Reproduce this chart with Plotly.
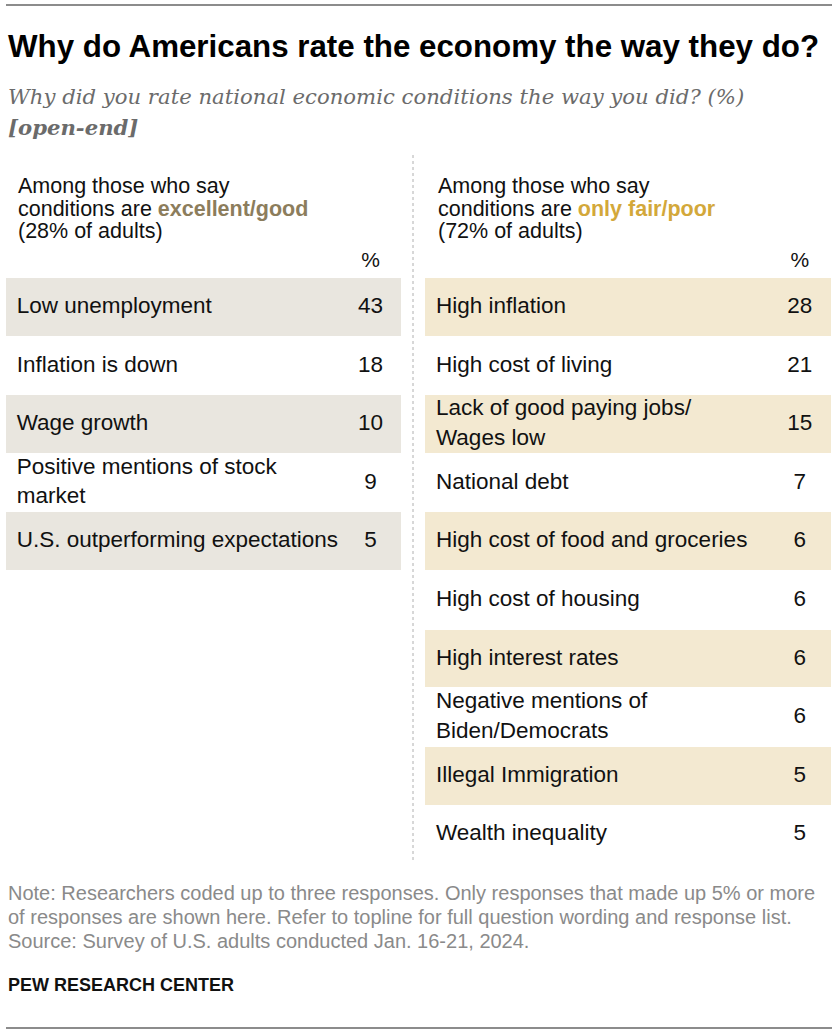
import plotly.graph_objects as go

# Data
good_labels = [
    "Low unemployment",
    "Inflation is down",
    "Wage growth",
    "Positive mentions of stock<br>market",
    "U.S. outperforming expectations",
]
good_values = [43, 18, 10, 9, 5]

poor_labels = [
    "High inflation",
    "High cost of living",
    "Lack of good paying jobs/<br>Wages low",
    "National debt",
    "High cost of food and groceries",
    "High cost of housing",
    "High interest rates",
    "Negative mentions of<br>Biden/Democrats",
    "Illegal Immigration",
    "Wealth inequality",
]
poor_values = [28, 21, 15, 7, 6, 6, 6, 6, 5, 5]

title = "Why do Americans rate the economy the way they do?"
subtitle = "Why did you rate national economic conditions the way you did? (%)"
note_lines = [
    "Note: Researchers coded up to three responses. Only responses that made up 5% or more",
    "of responses are shown here. Refer to topline for full question wording and response list.",
    "Source: Survey of U.S. adults conducted Jan. 16-21, 2024.",
]

W, H = 840, 1036
BODY_FONT = "Liberation Sans"
GOOD_BG = "#E9E6DF"
POOR_BG = "#F3E9D1"
GOOD_ACCENT = "#8C7D5C"
POOR_ACCENT = "#D3A83A"
ROW_PX = 58.6


def py(px):
    # pixel row -> paper fraction
    return 1 - px / H


fig = go.Figure()

columns = [
    ("x", good_labels, good_values, GOOD_BG),
    ("x2", poor_labels, poor_values, POOR_BG),
]

for xref, labels, values, bg in columns:
    rows = list(range(len(labels)))
    shaded = [r for r in rows if r % 2 == 0]
    fig.add_trace(go.Bar(
        x=[1] * len(shaded),
        y=shaded,
        base=0,
        orientation="h",
        width=0.985,
        marker_color=bg,
        marker_line_width=0,
        xaxis=xref,
        yaxis="y",
        hoverinfo="skip",
    ))
    fig.add_trace(go.Scatter(
        x=[0.027] * len(labels),
        y=rows,
        text=labels,
        mode="text",
        textposition="middle right",
        textfont=dict(family=BODY_FONT, size=22.5, color="#111111"),
        xaxis=xref,
        yaxis="y",
        cliponaxis=False,
        hoverinfo="skip",
    ))
    fig.add_trace(go.Scatter(
        x=[0.923] * len(values),
        y=rows,
        text=[str(v) for v in values],
        mode="text",
        textposition="middle center",
        textfont=dict(family=BODY_FONT, size=22.5, color="#111111"),
        xaxis=xref,
        yaxis="y",
        cliponaxis=False,
        hoverinfo="skip",
    ))
    # "%" column header sits just above the first row
    fig.add_trace(go.Scatter(
        x=[0.923],
        y=[-0.78],
        text=["%"],
        mode="text",
        textposition="middle center",
        textfont=dict(family=BODY_FONT, size=21, color="#111111"),
        xaxis=xref,
        yaxis="y",
        cliponaxis=False,
        hoverinfo="skip",
    ))

# Column headers
headers = [
    (16, ["Among those who say",
          "conditions are <b><span style='color:%s'>excellent/good</span></b>" % GOOD_ACCENT,
          "(28% of adults)"]),
    (436, ["Among those who say",
           "conditions are <b><span style='color:%s'>only fair/poor</span></b>" % POOR_ACCENT,
           "(72% of adults)"]),
]
for x0, lines in headers:
    for i, line in enumerate(lines):
        fig.add_annotation(
            x=x0 / W, y=py(186 + i * 22.5), xref="paper", yref="paper",
            text=line, showarrow=False, xanchor="left", yanchor="middle",
            font=dict(family=BODY_FONT, size=21.5, color="#111111"),
        )

# Title block
fig.add_annotation(
    x=6 / W, y=py(46), xref="paper", yref="paper",
    text="<b>%s</b>" % title, showarrow=False, xanchor="left", yanchor="middle",
    font=dict(family=BODY_FONT, size=31.3, color="#000000"),
)
fig.add_annotation(
    x=6 / W, y=py(96), xref="paper", yref="paper",
    text="<i>%s</i>" % subtitle, showarrow=False, xanchor="left", yanchor="middle",
    font=dict(family="DejaVu Serif", size=21.2, color="#6b6b6b"),
)
fig.add_annotation(
    x=6 / W, y=py(127), xref="paper", yref="paper",
    text="<b><i>[open-end]</i></b>", showarrow=False, xanchor="left", yanchor="middle",
    font=dict(family="DejaVu Serif", size=21.2, color="#6b6b6b"),
)

# Notes and source
for i, line in enumerate(note_lines):
    fig.add_annotation(
        x=6 / W, y=py(893 + i * 24), xref="paper", yref="paper",
        text=line, showarrow=False, xanchor="left", yanchor="middle",
        font=dict(family=BODY_FONT, size=20, color="#8a8a8a"),
    )
fig.add_annotation(
    x=6 / W, y=py(985), xref="paper", yref="paper",
    text="<b>PEW RESEARCH CENTER</b>", showarrow=False, xanchor="left", yanchor="middle",
    font=dict(family=BODY_FONT, size=18, color="#111111"),
)

# Rules and divider
fig.add_shape(type="line", xref="paper", yref="paper",
              x0=6 / W, x1=832 / W, y0=py(5), y1=py(5),
              line=dict(color="#8c8c8c", width=2))
fig.add_shape(type="line", xref="paper", yref="paper",
              x0=6 / W, x1=832 / W, y0=py(1028), y1=py(1028),
              line=dict(color="#8c8c8c", width=2))
fig.add_shape(type="line", xref="paper", yref="paper",
              x0=413 / W, x1=413 / W, y0=py(155), y1=py(862),
              line=dict(color="#b0b0b0", width=1, dash="dot"))

axis_off = dict(visible=False, showgrid=False, zeroline=False, fixedrange=True)
fig.update_layout(
    width=W,
    height=H,
    margin=dict(l=0, r=0, t=0, b=0),
    paper_bgcolor="white",
    plot_bgcolor="white",
    showlegend=False,
    barmode="overlay",
    bargap=0,
    xaxis=dict(domain=[6 / W, 401 / W], range=[0, 1], **axis_off),
    xaxis2=dict(domain=[425 / W, 831 / W], range=[0, 1], **axis_off),
    # extra row above the table holds the "%" headers
    yaxis=dict(domain=[py(864), py(278 - ROW_PX)], range=[9.5, -1.5], **axis_off),
)

fig.write_html("out.html", config={"displayModeBar": False},
               post_script="document.body.style.margin='0';")
